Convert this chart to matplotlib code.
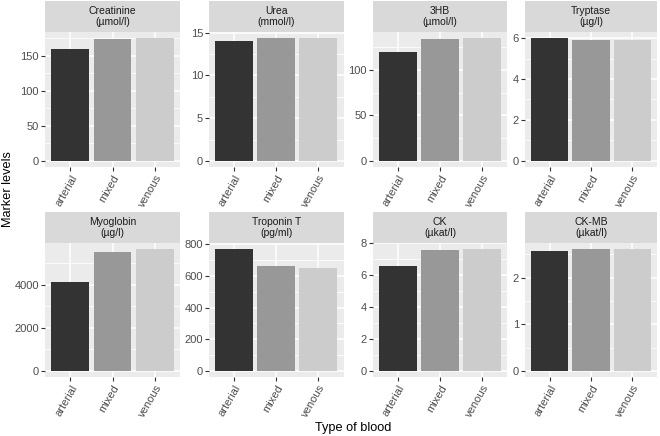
import matplotlib
matplotlib.use("Agg")
import matplotlib.pyplot as plt
import numpy as np

plt.rcParams['font.family'] = ['Liberation Sans', 'DejaVu Sans']

blood_types = ["arterial", "mixed", "venous"]
markers = ["Creatinine", "Urea", "3HB", "Tryptase",
           "Myoglobin", "Troponin T", "CK", "CK-MB"]
units = ["(µmol/l)", "(mmol/l)", "(µmol/l)", "(µg/l)",
         "(µg/l)", "(pg/ml)", "(µkat/l)", "(µkat/l)"]

creatinine = [159, 174, 175]
urea = [14.0, 14.37, 14.33]
hb3 = [120, 133.7, 134.9]
tryptase = [6.0, 5.93, 5.9]
myoglobin = [4123, 5505, 5660]
troponin_t = [769, 660, 650]
ck = [6.56, 7.56, 7.64]
ck_mb = [2.57, 2.61, 2.61]
values = [creatinine, urea, hb3, tryptase, myoglobin, troponin_t, ck, ck_mb]

major_ticks = [
    [0, 50, 100, 150],
    [0, 5, 10, 15],
    [0, 50, 100],
    [0, 2, 4, 6],
    [0, 2000, 4000],
    [0, 200, 400, 600, 800],
    [0, 2, 4, 6, 8],
    [0, 1, 2],
]

fill_colors = ["#333333", "#989898", "#CCCCCC"]

W, H = 660, 436
fig = plt.figure(figsize=(W / 100, H / 100), dpi=100)
fig.patch.set_facecolor("white")

col_x = [(45, 180), (209, 343.5), (373, 507), (525, 657)]
row_y = [(1, 32, 167), (212, 243, 377)]  # strip top, panel top, panel bottom


def fig_rect(x0, x1, ytop, ybot):
    return [x0 / W, 1 - ybot / H, (x1 - x0) / W, (ybot - ytop) / H]


for i, (name, unit) in enumerate(zip(markers, units)):
    r, c = divmod(i, 4)
    x0, x1 = col_x[c]
    st, pt, pb = row_y[r]
    # strip
    sax = fig.add_axes(fig_rect(x0, x1, st, pt))
    sax.set_facecolor("#D9D9D9")
    sax.set_xticks([]); sax.set_yticks([])
    for s in sax.spines.values():
        s.set_visible(False)
    sax.text(0.5, 0.5, f"{name}\n{unit}", ha="center", va="center",
             fontsize=7.5, color="#1A1A1A", transform=sax.transAxes,
             linespacing=1.2)
    # panel
    ax = fig.add_axes(fig_rect(x0, x1, pt, pb))
    ax.set_facecolor("#EBEBEB")
    vals = values[i]
    xs = np.arange(1, len(blood_types) + 1)
    ax.bar(xs, vals, width=0.9, color=fill_colors, zorder=3)
    vmax = max(vals)
    lo, hi = -0.05 * vmax, 1.05 * vmax
    ax.set_ylim(lo, hi)
    ax.set_xlim(0.4, 3.6)
    mt = major_ticks[i]
    step = mt[1] - mt[0]
    minors = [m + step / 2 for m in mt]
    minors = [m for m in minors if lo < m < hi]
    for m in minors:
        ax.axhline(m, color="white", lw=0.55, zorder=1)
    for m in mt:
        ax.axhline(m, color="white", lw=1.1, zorder=1)
    for xx in xs:
        ax.axvline(xx, color="white", lw=1.1, zorder=1)
    ax.set_yticks(mt)
    ax.set_yticklabels([str(m) for m in mt])
    ax.set_xticks(xs)
    ax.set_xticklabels(blood_types, rotation=60, ha="right", va="top",
                       rotation_mode="anchor")
    ax.tick_params(axis="both", length=2.8, width=0.8, color="#333333",
                   labelsize=8, labelcolor="#4D4D4D", pad=1.5)
    ax.grid(False)
    for s in ax.spines.values():
        s.set_visible(False)

fig.text(8 / W, 1 - 189 / H, "Marker levels", rotation=90, ha="center",
         va="center", fontsize=9.2, color="black")
fig.text(353 / W, 1 - 428 / H, "Type of blood", ha="center", va="center",
         fontsize=9.2, color="black")

fig.savefig("out.png", dpi=100)
